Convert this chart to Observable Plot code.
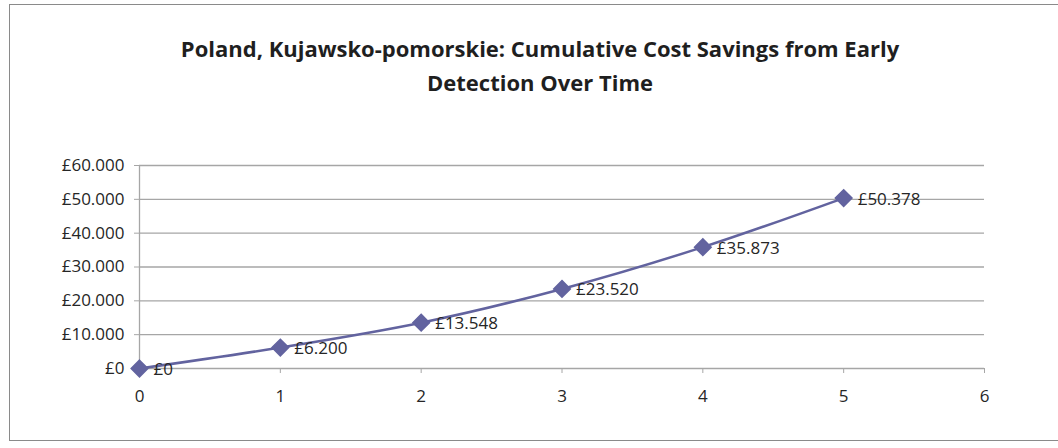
<!DOCTYPE html>
<html>
<head>
<meta charset="utf-8">
<script src="https://cdn.jsdelivr.net/npm/d3@7"></script>
<script src="https://cdn.jsdelivr.net/npm/@observablehq/plot@0.6"></script>
<style>
  html, body { margin: 0; padding: 0; background: #fff; }
  #wrap { position: relative; width: 1058px; height: 448px; overflow: hidden; font-family: "Open Sans", sans-serif; }
  #frame { position: absolute; left: 9px; top: 4px; width: 1100px; height: 437px; border: 1.5px solid #8a8a8a; box-sizing: border-box; }
  #title { position: absolute; left: 40px; width: 1000px; top: 31px; text-align: center; font-weight: bold; font-size: 22px; line-height: 34px; color: #1f1f1f; }
  #chart { position: absolute; left: 0; top: 110px; }
</style>
</head>
<body>
<div id="wrap">
  <div id="frame"></div>
  <div id="title">Poland, Kujawsko-pomorskie: Cumulative Cost Savings from Early<br>Detection Over Time</div>
  <div id="chart"></div>
</div>
<script>
const years = [0, 1, 2, 3, 4, 5];
const savings = [0, 6200, 13548, 23520, 35873, 50378];
const labels = ["£0", "£6.200", "£13.548", "£23.520", "£35.873", "£50.378"];
const yTicks = [0, 10000, 20000, 30000, 40000, 50000, 60000];
const xTicks = [0, 1, 2, 3, 4, 5, 6];

const data = years.map((y, i) => ({year: y, value: savings[i], label: labels[i]}));
const fmt = v => v === 0 ? "£0" : "£" + (v / 1000).toFixed(0) + ".000";
const color = "#62639f";

const plot = Plot.plot({
  width: 1058,
  height: 338,
  marginLeft: 139,
  marginRight: 74,
  marginTop: 55,
  marginBottom: 80,
  style: { fontFamily: "Open Sans, sans-serif", fontSize: "17px", color: "#262626", background: "transparent" },
  x: { domain: [0, 6], ticks: xTicks, label: null },
  y: { domain: [0, 60000], ticks: yTicks, label: null },
  marks: [
    Plot.gridY(yTicks, { stroke: "#a6a6a6", strokeOpacity: 1, strokeWidth: 1.3 }),
    Plot.ruleX([0], { stroke: "#a6a6a6", strokeWidth: 1.3 }),
    Plot.axisY(yTicks, { tickFormat: fmt, tickSize: 5, tickPadding: 10, stroke: "#a6a6a6", fontSize: 17 }),
    Plot.axisX(xTicks, { tickFormat: d => String(d), tickSize: 5, tickPadding: 16, stroke: "#a6a6a6", fontSize: 17 }),
    Plot.line(data, { x: "year", y: "value", stroke: color, strokeWidth: 2.5, curve: "catmull-rom" }),
    Plot.dot(data, { x: "year", y: "value", symbol: "diamond2", r: 7.5, fill: color, stroke: color }),
    Plot.text(data, { x: "year", y: "value", text: "label", textAnchor: "start", dx: 14, dy: 1, fontSize: 17, fill: "#262626" })
  ]
});
document.getElementById("chart").appendChild(plot);
</script>
</body>
</html>
